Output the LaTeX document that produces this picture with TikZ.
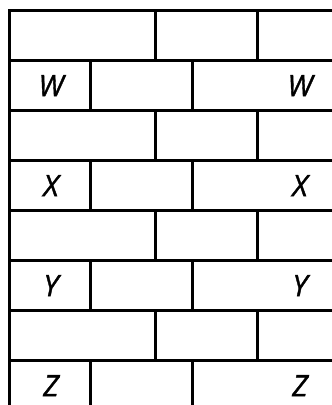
\documentclass[tikz,border=0pt]{standalone}
\usepackage{fontspec}
\setmainfont{Open Sans}
\newfontfamily\tagfont{Open Sans}[ItalicFeatures={FakeBold=1.2}]
\begin{document}
\begin{tikzpicture}[x=1pt,y=-1pt,
    mortar/.style={draw=black,line width=3pt,line cap=rect},
    tag/.style={font=\tagfont\itshape\fontsize{29.5}{29.5}\selectfont,inner sep=0pt}]
  \useasboundingbox (0,0) rectangle (332,405);
  \clip (0,0) rectangle (332,405);
  % bed joints and left edge
  \foreach \r in {0,...,8}
    \draw[mortar] (9.5,10.7+50*\r) -- (340,10.7+50*\r);
  \draw[mortar] (9.5,10.7) -- (9.5,412);
  % plain courses
  \foreach \r in {0,2,4,6} {
    \draw[mortar] (155,10.7+50*\r) -- ++(0,50);
    \draw[mortar] (257,10.7+50*\r) -- ++(0,50);
  }
  % lettered courses
  \foreach \r/\t in {1/W,3/X,5/Y,7/Z} {
    \draw[mortar] (90,10.7+50*\r) -- ++(0,50);
    \draw[mortar] (192.5,10.7+50*\r) -- ++(0,50);
    \node[tag] (l\t) at (51,35.7+50*\r) {\t};
    \node[tag] (r\t) at (300,35.7+50*\r) {\t};
  }
\end{tikzpicture}
\end{document}
